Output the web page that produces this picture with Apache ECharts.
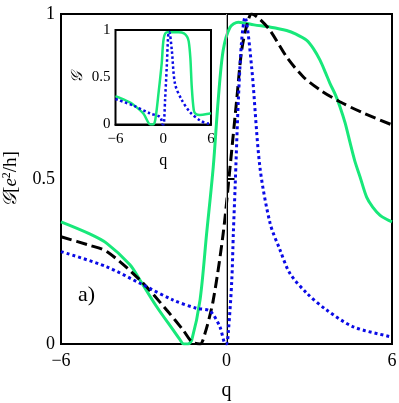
<!DOCTYPE html>
<html>
<head>
<meta charset="utf-8">
<script src="https://cdn.jsdelivr.net/npm/echarts@6/dist/echarts.min.js"></script>
<style>
html,body{margin:0;padding:0;background:#fff;}
#c{width:399px;height:403px;}
</style>
</head>
<body>
<div id="c"></div>
<script>
// ---- data ----
var xTicks = [-6, 0, 6];
var yTicks = [0, 0.5, 1];

var qGreen = [-6, -5, -4.34, -3.5, -3.14, -2.53, -1.93, -1.7, -1.55, -1.4, -1.26, -0.96, -0.72, -0.48, -0.3, -0.12, 0.13, 0.43, 1.0, 1.6, 2.18, 2.5, 2.91, 3.15, 3.39, 3.6, 3.75, 3.95, 4.11, 4.3, 4.48, 4.65, 4.84, 5.08, 5.3, 5.57, 5.8, 6];
var gGreen = [0.37, 0.335, 0.305, 0.24, 0.194, 0.113, 0.042, 0.015, 0.0, 0.0, 0.012, 0.133, 0.335, 0.537, 0.74, 0.89, 0.96, 0.975, 0.967, 0.96, 0.95, 0.94, 0.92, 0.895, 0.86, 0.82, 0.79, 0.755, 0.72, 0.67, 0.61, 0.555, 0.507, 0.445, 0.415, 0.39, 0.378, 0.37];

var qBlack = [-6, -5, -4.34, -3.14, -2.17, -1.57, -1.26, -0.96, -0.78, -0.48, -0.12, 0.13, 0.37, 0.55, 0.75, 0.91, 1.2, 1.58, 2.18, 2.78, 3.39, 4.11, 4.96, 6];
var gBlack = [0.325, 0.30, 0.28, 0.194, 0.103, 0.042, 0.007, 0.0, 0.032, 0.133, 0.335, 0.537, 0.74, 0.89, 0.97, 1.0, 0.985, 0.95, 0.87, 0.81, 0.77, 0.734, 0.70, 0.664];

var qBlue = [-6, -4.34, -3.14, -1.93, -1.08, -0.6, -0.24, -0.08, 0.0, 0.07, 0.19, 0.25, 0.31, 0.43, 0.55, 0.67, 0.91, 1.21, 1.58, 1.94, 2.30, 2.91, 3.63, 4.6, 5.93, 6];
var gBlue = [0.28, 0.234, 0.184, 0.133, 0.108, 0.1, 0.052, 0.005, 0.0, 0.04, 0.19, 0.34, 0.47, 0.74, 0.92, 0.99, 0.84, 0.537, 0.366, 0.285, 0.214, 0.154, 0.103, 0.052, 0.022, 0.02];

var qInsetGreen = [-6, -4.33, -3.76, -2.5, -1.62, -1.3, -1.0, -0.57, -0.19, 0.06, 0.48, 1.94, 2.6, 2.99, 3.2, 3.41, 3.58, 3.84, 4.1, 4.6, 5.86, 6];
var gInsetGreen = [0.30, 0.24, 0.21, 0.117, 0.0, 0.0, 0.05, 0.35, 0.65, 0.91, 0.975, 0.975, 0.965, 0.93, 0.88, 0.70, 0.40, 0.15, 0.11, 0.10, 0.117, 0.12];

var qInsetBlue = [-6, -3.76, -1.66, -0.4, -0.05, 0.05, 0.23, 0.44, 0.64, 0.75, 1.07, 1.48, 2.32, 3.37, 4.6, 5.65, 6];
var gInsetBlue = [0.27, 0.2, 0.117, 0.08, 0.0, 0.0, 0.26, 0.61, 0.97, 0.98, 0.79, 0.43, 0.26, 0.13, 0.045, 0.01, 0.01];

function pairs(xs, ys) { return xs.map(function (x, i) { return [x, ys[i]]; }); }

var FONT = 'Liberation Serif';
var GREEN = '#18e87a', BLUE = '#0a0ae6', BLACK = '#000';

function tickFmt(v) { return String(v).replace('-', '\u2212'); }

var chart = echarts.init(document.getElementById('c'), null, {renderer: 'canvas'});
var option = {
  backgroundColor: '#fff',
  animation: false,
  grid: [
    {left: 61, top: 14, width: 331, height: 330, show: true, borderColor: '#000', borderWidth: 2,
     backgroundColor: 'transparent', outerBoundsMode: 'none', containLabel: false},
    {left: 115.5, top: 30, width: 95.5, height: 94.5, show: true, borderColor: '#000', borderWidth: 2,
     backgroundColor: '#fff', z: 10, outerBoundsMode: 'none', containLabel: false}
  ],
  xAxis: [
    {gridIndex: 0, type: 'value', min: -6, max: 6, interval: 6,
     axisLine: {show: true, lineStyle: {color: '#000', width: 2}},
     axisTick: {show: false}, splitLine: {show: false},
     axisLabel: {color: '#000', fontFamily: FONT, fontSize: 18, margin: 8, formatter: tickFmt},
     name: 'q', nameLocation: 'middle', nameGap: 37,
     nameTextStyle: {color: '#000', fontFamily: FONT, fontSize: 20}},
    {gridIndex: 1, type: 'value', min: -6, max: 6, interval: 6,
     axisLine: {show: true, lineStyle: {color: '#000', width: 2}},
     axisTick: {show: false}, splitLine: {show: false},
     axisLabel: {color: '#000', fontFamily: FONT, fontSize: 15, margin: 7, formatter: tickFmt},
     name: 'q', nameLocation: 'middle', nameGap: 28,
     nameTextStyle: {color: '#000', fontFamily: FONT, fontSize: 16}}
  ],
  yAxis: [
    {gridIndex: 0, type: 'value', min: 0, max: 1, interval: 0.5,
     axisLine: {show: true, lineStyle: {color: '#000', width: 2}},
     axisTick: {show: true, inside: true, length: 8, lineStyle: {color: '#000', width: 2}},
     splitLine: {show: false},
     axisLabel: {color: '#000', fontFamily: FONT, fontSize: 18, margin: 6},
     name: '{g|\uD835\uDCA2}[{i|e}{s|2}/h]', nameLocation: 'middle', nameGap: 40, nameRotate: 90,
     nameTextStyle: {color: '#000', fontFamily: FONT, fontSize: 19,
       rich: {
         g: {fontFamily: FONT, fontSize: 19, fontStyle: 'italic'},
         i: {fontFamily: FONT, fontSize: 19, fontStyle: 'italic'},
         s: {fontFamily: FONT, fontSize: 12, verticalAlign: 'top', padding: [0, 0, 8, 0]}
       }}},
    {gridIndex: 1, type: 'value', min: 0, max: 1, interval: 0.5,
     axisLine: {show: true, lineStyle: {color: '#000', width: 2}},
     axisTick: {show: true, inside: true, length: 7, lineStyle: {color: '#000', width: 2}},
     splitLine: {show: false},
     axisLabel: {color: '#000', fontFamily: FONT, fontSize: 15, margin: 5},
     name: '\uD835\uDCA2', nameLocation: 'middle', nameGap: 30, nameRotate: 90,
     nameTextStyle: {color: '#000', fontFamily: FONT, fontSize: 16, fontStyle: 'italic'}}
  ],
  series: [
    {type: 'line', xAxisIndex: 0, yAxisIndex: 0, data: pairs(qGreen, gGreen), showSymbol: false,
     smooth: 0.3, lineStyle: {color: GREEN, width: 3}, z: 3,
     markLine: {silent: true, symbol: 'none', label: {show: false},
       lineStyle: {color: '#aaa', width: 1, type: 'solid'}, data: [{xAxis: 0}]}},
    {type: 'line', xAxisIndex: 0, yAxisIndex: 0, data: pairs(qBlack, gBlack), showSymbol: false,
     smooth: 0.3, lineStyle: {color: BLACK, width: 3, type: [11, 5]}, z: 4},
    {type: 'line', xAxisIndex: 0, yAxisIndex: 0, data: pairs(qBlue, gBlue), showSymbol: false,
     smooth: 0.3, lineStyle: {color: BLUE, width: 3, type: [3, 3]}, z: 5},
    {type: 'line', xAxisIndex: 1, yAxisIndex: 1, data: pairs(qInsetGreen, gInsetGreen), showSymbol: false,
     smooth: 0.3, lineStyle: {color: GREEN, width: 2.5}, z: 12,
     markLine: {silent: true, symbol: 'none', label: {show: false},
       lineStyle: {color: '#555', width: 1, type: 'solid'}, data: [{xAxis: 0}]}},
    {type: 'line', xAxisIndex: 1, yAxisIndex: 1, data: pairs(qInsetBlue, gInsetBlue), showSymbol: false,
     smooth: 0.3, lineStyle: {color: BLUE, width: 2.5, type: [2.5, 2.5]}, z: 13}
  ],
  graphic: [
    {type: 'text', left: 78, top: 284, z: 20,
     style: {text: 'a)', fontFamily: FONT, fontSize: 22, fill: '#000'}}
  ]
};
chart.setOption(option);
</script>
</body>
</html>
